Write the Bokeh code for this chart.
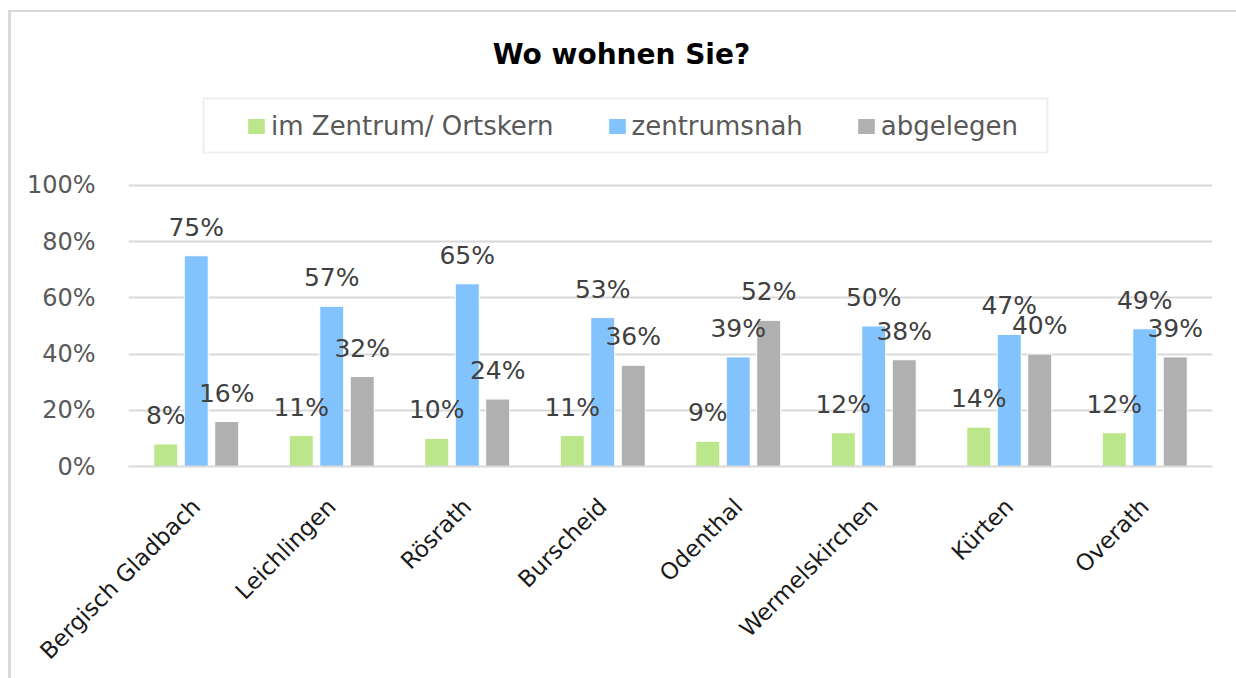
from math import pi
from bokeh.plotting import figure
from bokeh.models import (ColumnDataSource, FactorRange, Range1d, NumeralTickFormatter,
                          LabelSet, Label, Legend, LegendItem, BoxAnnotation, FixedTicker)
from bokeh.transform import dodge
from bokeh.core.properties import value
from bokeh.embed import file_html
from bokeh.resources import INLINE

# ---------------- data ----------------
gemeinden = ["Bergisch Gladbach", "Leichlingen", "Rösrath", "Burscheid",
             "Odenthal", "Wermelskirchen", "Kürten", "Overath"]
zentrum = [8, 11, 10, 11, 9, 12, 14, 12]
zentrumsnah = [75, 57, 65, 53, 39, 50, 47, 49]
abgelegen = [16, 32, 24, 36, 52, 38, 40, 39]
serien = ["im Zentrum/ Ortskern", "zentrumsnah", "abgelegen"]
y_ticks = [0, 0.2, 0.4, 0.6, 0.8, 1.0]
titel = "Wo wohnen Sie?"

# ---------------- style ----------------
FONT = "DejaVu Sans"
farben = ["#bbe689", "#83c3fd", "#b0b0b0"]
offsets = [-0.225, 0.0, 0.225]
BAR_W = 0.177
Y_TOP = 1.658  # frame extends above 100% to hold title and legend

werte = [zentrum, zentrumsnah, abgelegen]
data = {"x": gemeinden}
for i, w in enumerate(werte):
    data[f"v{i}"] = [v / 100 for v in w]
    data[f"l{i}"] = [f"{v}%" for v in w]
src = ColumnDataSource(data)

p = figure(x_range=FactorRange(factors=gemeinden), y_range=Range1d(0, Y_TOP),
           width=1236, height=678, output_backend="svg", toolbar_location=None,
           min_border_left=128, min_border_right=24, min_border_top=0, min_border_bottom=212,
           border_fill_color=None, background_fill_color=None)
p.outline_line_color = None
p.styles = {"box-shadow": "inset 8px 10px 0 0 white, inset 11px 12px 0 0 #d9d9d9"}

renderers = []
for i in range(3):
    r = p.vbar(x=dodge("x", offsets[i], range=p.x_range), top=f"v{i}", width=BAR_W,
               source=src, fill_color=farben[i], line_color="white", line_width=1)
    renderers.append(r)
    labels = LabelSet(x=dodge("x", offsets[i], range=p.x_range), y=f"v{i}", text=f"l{i}",
                      source=src, y_offset=20, text_align="center", text_baseline="alphabetic",
                      text_font=value(FONT), text_font_size="25px", text_color="#404040")
    p.add_layout(labels)

# axes
p.yaxis.ticker = FixedTicker(ticks=y_ticks)
p.yaxis.formatter = NumeralTickFormatter(format="0%")
p.yaxis.major_label_text_font = FONT
p.yaxis.major_label_text_font_size = "24px"
p.yaxis.major_label_text_color = "#595959"
p.yaxis.axis_line_color = None
p.yaxis.major_tick_line_color = None
p.yaxis.minor_tick_line_color = None
p.yaxis.major_tick_out = 0
p.yaxis.major_tick_in = 0
p.yaxis.major_label_standoff = 33

p.xaxis.major_label_orientation = pi / 4
p.xaxis.major_label_text_font = FONT
p.xaxis.major_label_text_font_size = "23px"
p.xaxis.major_label_text_color = "#1a1a1a"
p.xaxis.axis_line_color = "#d9d9d9"
p.xaxis.axis_line_width = 2
p.xaxis.major_tick_line_color = None
p.xaxis.major_tick_out = 0
p.xaxis.major_tick_in = 0
p.xaxis.major_label_standoff = 36

p.xgrid.grid_line_color = None
p.ygrid.grid_line_color = "#d9d9d9"
p.ygrid.grid_line_width = 2

# legend
legend = Legend(items=[LegendItem(label=s, renderers=[r]) for s, r in zip(serien, renderers)],
                location=(117, 325), orientation="horizontal",
                label_text_font=FONT, label_text_font_size="26px", label_text_color="#595959",
                glyph_width=22, glyph_height=20, label_standoff=4, spacing=52, padding=12,
                border_line_color=None, background_fill_alpha=0)
p.add_layout(legend)

# legend frame
p.add_layout(BoxAnnotation(left=0.5535, right=6.782, bottom=1.1174, top=1.3096,
                           fill_color=None, line_color="#c8c8c8", line_width=2))

# title
p.add_layout(Label(x=3.638, y=1.4662, text=titel, text_align="center", text_baseline="alphabetic",
                   text_font=FONT, text_font_style="bold", text_font_size="28px",
                   text_color="black"))

open("out.html", "w").write(file_html(p, INLINE))
